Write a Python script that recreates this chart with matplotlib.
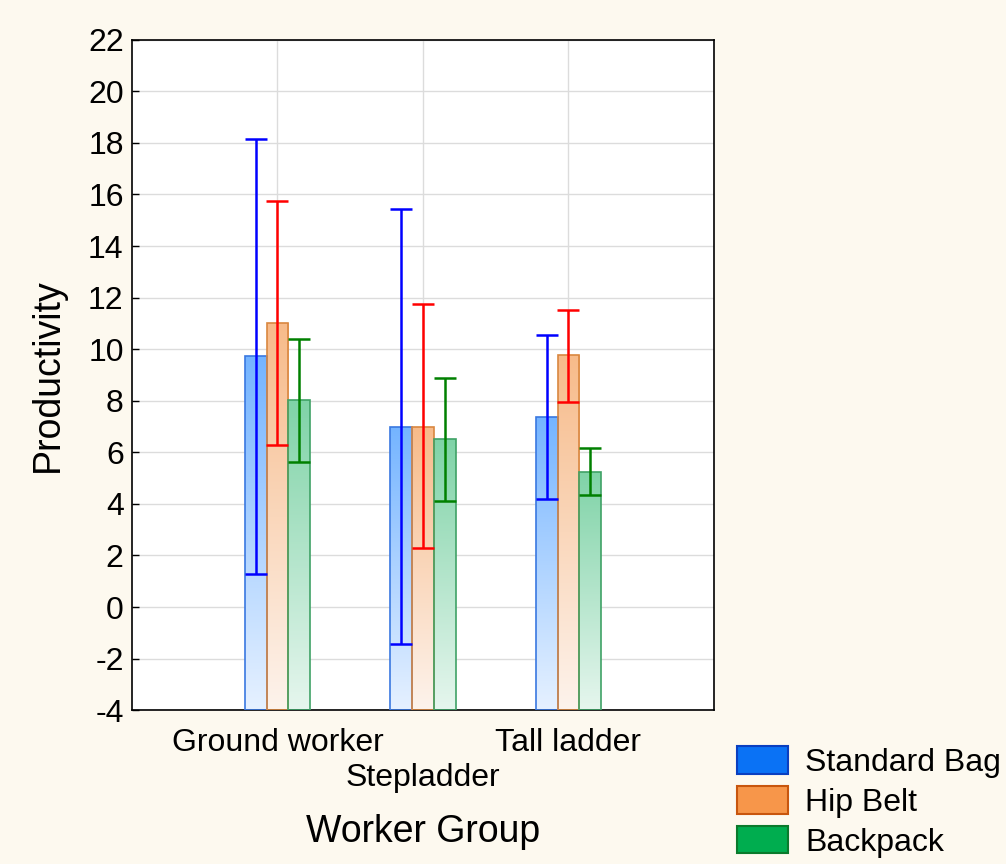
import numpy as np
import matplotlib
matplotlib.use('Agg')
import matplotlib.pyplot as plt
from matplotlib.colors import LinearSegmentedColormap
from matplotlib.patches import Patch

plt.rcParams['font.family'] = ['Liberation Sans', 'DejaVu Sans']
plt.rcParams['axes.unicode_minus'] = False

groups = ['Ground worker', 'Stepladder', 'Tall ladder']
series = ['Standard Bag', 'Hip Belt', 'Backpack']
means = {
    'Standard Bag': [9.75, 7.0, 7.37],
    'Hip Belt': [11.0, 7.0, 9.78],
    'Backpack': [8.02, 6.52, 5.24],
}
lower = {
    'Standard Bag': [1.28, -1.44, 4.19],
    'Hip Belt': [6.28, 2.29, 7.95],
    'Backpack': [5.62, 4.11, 4.34],
}
upper = {
    'Standard Bag': [18.15, 15.44, 10.55],
    'Hip Belt': [15.75, 11.75, 11.52],
    'Backpack': [10.4, 8.88, 6.17],
}

# top colour, bottom colour, edge, error bar colour, legend face, legend edge
styles = {
    'Standard Bag': ('#74b4ff', '#e6f1ff', '#3a78e0', '#0000ff', '#0a72f5', '#0a3fc0'),
    'Hip Belt': ('#f7bb8a', '#fdf3ec', '#d98740', '#ff0000', '#f7964a', '#c8560e'),
    'Backpack': ('#7fd3a7', '#e6f6ee', '#3fa266', '#008000', '#00ad4f', '#0b7a2c'),
}

ymin, ymax = -4, 22
width = 0.15

fig = plt.figure(figsize=(10.06, 8.64), dpi=100, facecolor='#fdf9ef')
ax = fig.add_axes([0.1312, 0.178, 0.5785, 0.776])
ax.set_facecolor('white')

x = np.arange(len(groups))
for i, name in enumerate(series):
    top, bottom, edge, ecol, _, _ = styles[name]
    cmap = LinearSegmentedColormap.from_list(name, [bottom, top])
    xs = x + (i - 1) * width
    for xc, m, lo, hi in zip(xs, means[name], lower[name], upper[name]):
        left = xc - width / 2
        bar = ax.bar(xc, m - ymin, width, bottom=ymin, facecolor='none',
                     edgecolor=edge, linewidth=1.2, zorder=3)[0]
        grad = np.linspace(0, 1, 256).reshape(-1, 1)
        im = ax.imshow(grad, cmap=cmap, origin='lower', aspect='auto',
                       extent=(left, left + width, ymin, m), zorder=2)
        im.set_clip_path(bar)
        ax.errorbar(xc, m, yerr=[[m - lo], [hi - m]], fmt='none', ecolor=ecol,
                    elinewidth=1.8, capsize=8, capthick=1.8, zorder=4)

ax.set_xlim(-1, 3)
ax.set_ylim(ymin, ymax)
ax.set_yticks(np.arange(-4, 23, 2))
ax.set_xticks(x)
# staggered labels: the middle one sits a line lower
ax.set_xticklabels([g if k % 2 == 0 else '' for k, g in enumerate(groups)], fontsize=23)
for k, g in enumerate(groups):
    if k % 2 == 1:
        ax.annotate(g, xy=(x[k], 0), xycoords=('data', 'axes fraction'),
                    xytext=(0, -49), textcoords='offset points',
                    ha='center', va='center', fontsize=23)
ax.tick_params(axis='y', labelsize=23, direction='in', length=5, width=1, pad=6)
ax.tick_params(axis='x', direction='in', length=5, width=1.5, pad=13)
ax.grid(True, color='#dcdcdc', linewidth=1)
ax.set_axisbelow(True)
for s in ax.spines.values():
    s.set_linewidth(1.2)

ax.set_ylabel('Productivity', fontsize=27, labelpad=16)
ax.set_xlabel('Worker Group', fontsize=27, va='center')
ax.xaxis.set_label_coords(0.5, -0.182)

handles = [Patch(facecolor=styles[n][4], edgecolor=styles[n][5], linewidth=1.5, label=n)
           for n in series]
fig.legend(handles=handles, loc='lower left', bbox_to_anchor=(0.726, 0.0),
           frameon=False, fontsize=23, handlelength=1.6, handleheight=0.95,
           labelspacing=0.25, handletextpad=0.55, borderpad=0.2, borderaxespad=0.0)

fig.savefig('out.png', dpi=100, facecolor=fig.get_facecolor())
